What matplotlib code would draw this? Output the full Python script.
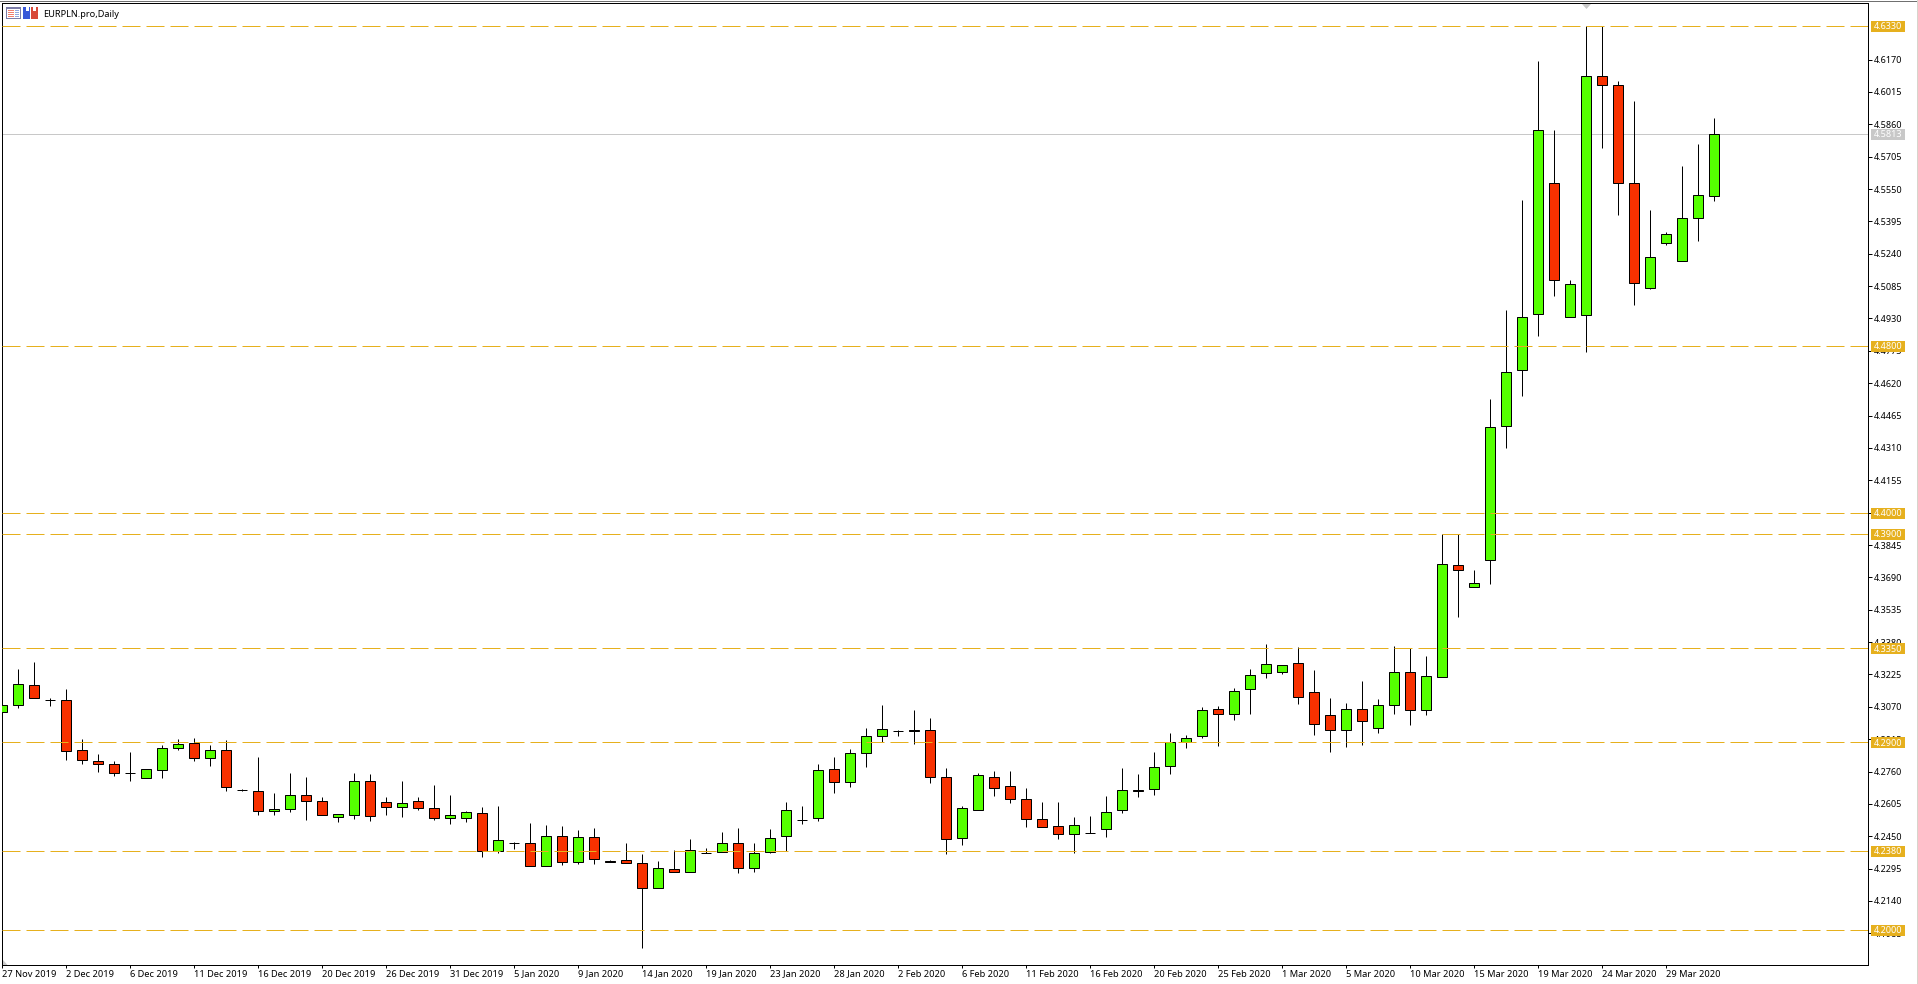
import matplotlib
matplotlib.use("Agg")
import matplotlib.pyplot as plt
from matplotlib.lines import Line2D
from matplotlib.patches import Polygon, Rectangle
from matplotlib.transforms import IdentityTransform

WIDTH = 1918
HEIGHT = 984
FONT = "Noto Sans"
PRICE_PT = 6.5
DATE_PT = 6.7
PX = 0.72  # one pixel in points at dpi 100

GREEN = "#55FF00"
RED = "#F73100"
GOLD = "#E6B01E"
GREY = "#C8C8C8"

opens = [
    4.3044, 4.3077, 4.3173, 4.3101, 4.3101, 4.2862, 4.2809, 4.2795, 4.2755, 4.2728,
    4.2766, 4.2871, 4.2895, 4.2824, 4.2862, 4.2670, 4.2666, 4.2570, 4.2579, 4.2646,
    4.2618, 4.2541, 4.2551, 4.2713, 4.2613, 4.2589, 4.2618, 4.2584, 4.2536, 4.2536,
    4.2560, 4.2378, 4.2417, 4.2417, 4.2306, 4.2450, 4.2326, 4.2445, 4.2330, 4.2335,
    4.2321, 4.2201, 4.2292, 4.2278, 4.2369, 4.2373, 4.2417, 4.2297, 4.2373, 4.2450,
    4.2527, 4.2536, 4.2771, 4.2709, 4.2847, 4.2929, 4.2953, 4.2958, 4.2958, 4.2733,
    4.2440, 4.2575, 4.2733, 4.2689, 4.2627, 4.2531, 4.2498, 4.2460, 4.2464, 4.2484,
    4.2575, 4.2670, 4.2675, 4.2785, 4.2900, 4.2929, 4.3058, 4.3034, 4.3154, 4.3231,
    4.3235, 4.3278, 4.3140, 4.3029, 4.2958, 4.3058, 4.2967, 4.3077, 4.3235, 4.3053,
    4.3215, 4.3751, 4.3646, 4.3771, 4.4417, 4.4685, 4.4951, 4.5578, 4.4937, 4.4946,
    4.6091, 4.6048, 4.5578, 4.5076, 4.5291, 4.5205, 4.5411, 4.5516,
]
highs = [
    4.3077, 4.3251, 4.3285, 4.3111, 4.3154, 4.2915, 4.2843, 4.2809, 4.2852, 4.2771,
    4.2886, 4.2915, 4.2919, 4.2886, 4.2910, 4.2675, 4.2828, 4.2656, 4.2752, 4.2733,
    4.2637, 4.2555, 4.2752, 4.2747, 4.2637, 4.2713, 4.2637, 4.2694, 4.2646, 4.2570,
    4.2589, 4.2594, 4.2421, 4.2512, 4.2503, 4.2498, 4.2479, 4.2488, 4.2335, 4.2417,
    4.2364, 4.2330, 4.2383, 4.2436, 4.2393, 4.2469, 4.2488, 4.2417, 4.2484, 4.2613,
    4.2594, 4.2795, 4.2828, 4.2867, 4.2967, 4.3077, 4.2959, 4.3053, 4.3015, 4.2776,
    4.2594, 4.2752, 4.2761, 4.2761, 4.2680, 4.2613, 4.2613, 4.2541, 4.2546, 4.2642,
    4.2776, 4.2747, 4.2852, 4.2943, 4.2934, 4.3068, 4.3073, 4.3159, 4.3250, 4.3369,
    4.3269, 4.3355, 4.3245, 4.3111, 4.3087, 4.3192, 4.3106, 4.3360, 4.3350, 4.3312,
    4.3900, 4.3900, 4.3727, 4.4546, 4.4969, 4.5499, 4.6164, 4.5832, 4.5114, 4.6330,
    4.6330, 4.6067, 4.5971, 4.5449, 4.5344, 4.5660, 4.5765, 4.5890,
]
lows = [
    4.3044, 4.3066, 4.3111, 4.3076, 4.2817, 4.2798, 4.2760, 4.2741, 4.2717, 4.2728,
    4.2731, 4.2865, 4.2812, 4.2788, 4.2669, 4.2669, 4.2554, 4.2554, 4.2568, 4.2530,
    4.2551, 4.2516, 4.2535, 4.2525, 4.2554, 4.2544, 4.2578, 4.2530, 4.2511, 4.2520,
    4.2353, 4.2369, 4.2389, 4.2306, 4.2306, 4.2310, 4.2319, 4.2319, 4.2326, 4.2321,
    4.1917, 4.2201, 4.2278, 4.2278, 4.2369, 4.2373, 4.2276, 4.2281, 4.2369, 4.2378,
    4.2511, 4.2525, 4.2659, 4.2688, 4.2784, 4.2903, 4.2932, 4.2894, 4.2707, 4.2367,
    4.2410, 4.2575, 4.2645, 4.2611, 4.2496, 4.2493, 4.2439, 4.2372, 4.2464, 4.2448,
    4.2563, 4.2640, 4.2650, 4.2750, 4.2875, 4.2922, 4.2884, 4.3009, 4.3037, 4.3210,
    4.3229, 4.3085, 4.2937, 4.2855, 4.2879, 4.2889, 4.2946, 4.3037, 4.2985, 4.3033,
    4.3215, 4.3501, 4.3646, 4.3659, 4.4310, 4.4559, 4.4844, 4.5040, 4.4937, 4.4768,
    4.5749, 4.5424, 4.4993, 4.5069, 4.5280, 4.5205, 4.5299, 4.5491,
]
closes = [
    4.3077, 4.3178, 4.3111, 4.3101, 4.2857, 4.2814, 4.2795, 4.2752, 4.2752, 4.2771,
    4.2871, 4.2891, 4.2824, 4.2862, 4.2685, 4.2670, 4.2570, 4.2579, 4.2646, 4.2618,
    4.2551, 4.2555, 4.2713, 4.2546, 4.2589, 4.2608, 4.2584, 4.2536, 4.2551, 4.2565,
    4.2378, 4.2431, 4.2417, 4.2306, 4.2450, 4.2326, 4.2445, 4.2340, 4.2326, 4.2321,
    4.2201, 4.2297, 4.2278, 4.2383, 4.2369, 4.2417, 4.2297, 4.2369, 4.2440, 4.2575,
    4.2527, 4.2766, 4.2709, 4.2847, 4.2929, 4.2962, 4.2953, 4.2953, 4.2733, 4.2436,
    4.2584, 4.2742, 4.2680, 4.2627, 4.2531, 4.2493, 4.2460, 4.2503, 4.2464, 4.2565,
    4.2670, 4.2666, 4.2780, 4.2900, 4.2919, 4.3053, 4.3034, 4.3144, 4.3221, 4.3274,
    4.3269, 4.3116, 4.2986, 4.2958, 4.3058, 4.3001, 4.3077, 4.3235, 4.3053, 4.3216,
    4.3752, 4.3723, 4.3661, 4.4412, 4.4676, 4.4939, 4.5832, 4.5114, 4.5095, 4.6091,
    4.6048, 4.5578, 4.5100, 4.5224, 4.5334, 4.5411, 4.5521, 4.5813,
]

date_labels = [
    "27 Nov 2019", "2 Dec 2019", "6 Dec 2019", "11 Dec 2019", "16 Dec 2019", "20 Dec 2019",
    "26 Dec 2019", "31 Dec 2019", "5 Jan 2020", "9 Jan 2020", "14 Jan 2020", "19 Jan 2020",
    "23 Jan 2020", "28 Jan 2020", "2 Feb 2020", "6 Feb 2020", "11 Feb 2020", "16 Feb 2020",
    "20 Feb 2020", "25 Feb 2020", "1 Mar 2020", "5 Mar 2020", "10 Mar 2020", "15 Mar 2020",
    "19 Mar 2020", "24 Mar 2020", "29 Mar 2020",
]
price_ticks = [
    4.6170, 4.6015, 4.5860, 4.5705, 4.5550, 4.5395, 4.5240, 4.5085, 4.4930, 4.4775,
    4.4620, 4.4465, 4.4310, 4.4155, 4.4000, 4.3845, 4.3690, 4.3535, 4.3380, 4.3225,
    4.3070, 4.2915, 4.2760, 4.2605, 4.2450, 4.2295, 4.2140, 4.1985,
]
levels = [4.6330, 4.4800, 4.4000, 4.3900, 4.3350, 4.2900, 4.2380, 4.2000]
last_price = 4.5813
title = "EURPLN.pro,Daily"

plt.rcParams["font.family"] = FONT
plt.rcParams["lines.scale_dashes"] = False

fig = plt.figure(figsize=(WIDTH / 100, HEIGHT / 100), dpi=100)
# 2.2 and 965.2 so that snapping lands the spines on the pixel columns and rows of the reference
ax = fig.add_axes([2.2 / WIDTH, (HEIGHT - 965.2) / HEIGHT, 1866 / WIDTH, 962 / HEIGHT])

xs = list(range(len(opens)))
colors = [GREEN if c > o else RED for o, c in zip(opens, closes)]
heights = [c - o for o, c in zip(opens, closes)]

ax.axhline(last_price, color=GREY, lw=PX, zorder=1)
ax.vlines(xs, lows, highs, color="black", lw=PX, zorder=2)
ax.bar(xs, heights, bottom=opens, width=0.625, color=colors, edgecolor="black", linewidth=PX, zorder=3)
for level in levels:
    ax.axhline(level, color=GOLD, lw=PX, zorder=4, linestyle=(0, (18 * PX, 6 * PX)), dash_capstyle="butt")

ax.set_xlim(0, 116.625)
ax.set_ylim(4.18324, 4.64402)

ax.set_xticks(xs[::4])
ax.set_xticklabels(date_labels, ha="left", fontsize=DATE_PT)
ax.set_yticks(price_ticks)
ax.set_yticklabels([f"{p:.4f}" for p in price_ticks], fontsize=PRICE_PT)
ax.yaxis.tick_right()
ax.tick_params(axis="x", length=3 * PX, width=PX, pad=1)
ax.tick_params(axis="y", length=4 * PX, width=PX, pad=1.2)
for spine in ax.spines.values():
    spine.set_linewidth(PX)


def to_y(py):
    return HEIGHT - py


def px_rect(x, y, w, h, color):
    fig.add_artist(Rectangle((x, to_y(y + h)), w, h, facecolor=color, edgecolor="none", transform=IdentityTransform()))


def px_poly(points, color):
    pts = [(x, to_y(y)) for x, y in points]
    fig.add_artist(Polygon(pts, closed=True, facecolor=color, edgecolor="none", transform=IdentityTransform()))


def px_line(x0, y0, x1, y1, color):
    fig.add_artist(Line2D([x0, x1], [to_y(y0), to_y(y1)], color=color, lw=PX, transform=IdentityTransform()))


def price_label(price, color):
    y = ax.transData.transform((0, price))[1]
    fig.add_artist(Rectangle((1871, round(y) - 6), 34, 11, facecolor=color, edgecolor="none",
                             transform=IdentityTransform()))
    fig.text(1874, y + 0.3, f"{price:.4f}", color="white", fontsize=PRICE_PT, va="center_baseline", ha="left",
             transform=IdentityTransform(), zorder=5)


for level in levels:
    price_label(level, GOLD)
price_label(last_price, GREY)

# window frame
px_line(0, 0.5, 1916, 0.5, "#707070")
px_line(1916.5, 0, 1916.5, HEIGHT, "#D8D4CC")

# markers the terminal draws on the chart
px_poly([(1582, 4), (1591, 4), (1586.5, 9)], GREY)
px_poly([(3, 960), (7.5, 965), (3, 965)], GREY)

# title icons
px_rect(6, 7, 15, 12, "#7C7CA8")
px_rect(7, 9, 13, 9, "white")
for row in [10, 12, 14, 16]:
    px_rect(8, row, 6, 1, "#F08070")
    px_rect(15, row, 4, 1, "#90A8E0")
px_rect(23, 7, 7, 12, "#3858D8")
px_rect(31, 7, 7, 12, "#D84838")
px_rect(26, 7, 3, 4, "white")
px_rect(33, 7, 3, 4, "white")

fig.text(43.5, to_y(13.5), title, color="black", fontsize=6.6, va="center_baseline", ha="left",
         transform=IdentityTransform())

fig.savefig("out.png", dpi=100)
